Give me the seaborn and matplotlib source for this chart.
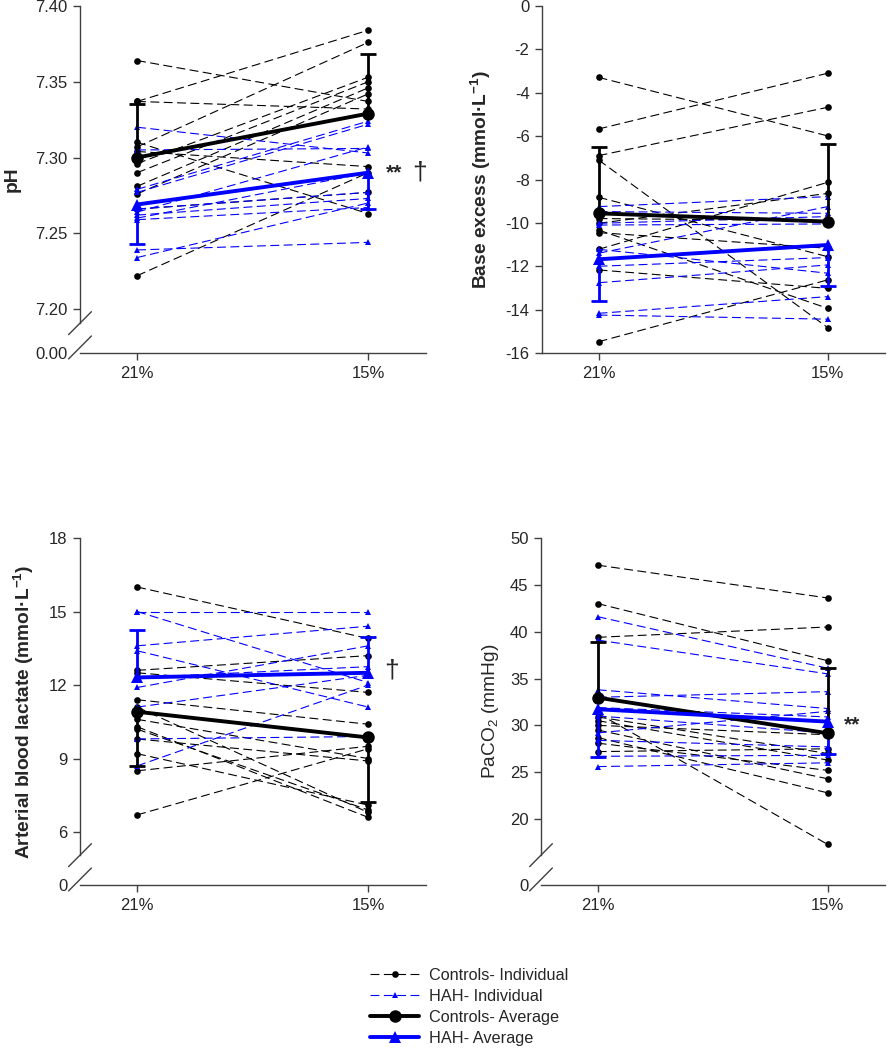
import numpy as np
import pandas as pd
import matplotlib
matplotlib.use("Agg")
import matplotlib.pyplot as plt
from matplotlib.lines import Line2D
import seaborn as sns

conditions = ["21%", "15%"]

# pH
ph_ctrl_21 = [7.364, 7.337, 7.337, 7.310, 7.307, 7.304, 7.296, 7.290, 7.281, 7.276, 7.266, 7.222]
ph_ctrl_15 = [7.337, 7.384, 7.332, 7.263, 7.376, 7.294, 7.353, 7.350, 7.346, 7.342, 7.277, 7.290]
ph_hah_21 = [7.320, 7.305, 7.279, 7.277, 7.266, 7.264, 7.262, 7.260, 7.259, 7.239, 7.234]
ph_hah_15 = [7.303, 7.306, 7.324, 7.322, 7.277, 7.307, 7.273, 7.290, 7.267, 7.244, 7.270]
ph_ctrl_mean = [7.300, 7.329]
ph_hah_mean = [7.269, 7.290]
ph_ctrl_bar = [7.335, 7.368]
ph_hah_bar = [7.243, 7.266]

# base excess
be_ctrl_21 = [-3.29, -5.67, -6.90, -7.10, -8.82, -9.80, -10.02, -10.33, -10.45, -11.22, -12.17, -15.48]
be_ctrl_15 = [-5.99, -3.10, -4.67, -14.83, -11.56, -9.90, -8.64, -13.94, -11.17, -8.13, -13.02, -12.63]
be_hah_21 = [-9.25, -9.48, -10.02, -10.10, -11.22, -11.40, -12.76, -14.17, -14.25, -12.00]
be_hah_15 = [-8.79, -9.56, -9.71, -10.05, -12.32, -9.25, -11.94, -13.40, -14.44, -11.60]
be_ctrl_mean = [-9.56, -9.94]
be_hah_mean = [-11.68, -11.02]
be_ctrl_bar = [-6.52, -6.38]
be_hah_bar = [-13.59, -12.91]

# arterial blood lactate
la_ctrl_21 = [16.0, 12.6, 12.5, 11.4, 11.1, 10.6, 10.3, 10.2, 9.8, 9.2, 8.5, 6.7]
la_ctrl_15 = [13.9, 13.2, 11.7, 10.4, 6.8, 9.0, 6.6, 6.9, 8.9, 7.1, 9.5, 9.4]
la_hah_21 = [15.0, 15.0, 13.6, 13.4, 12.3, 11.9, 11.1, 9.8, 8.7]
la_hah_15 = [15.0, 12.1, 14.4, 11.1, 12.75, 13.6, 12.4, 9.9, 12.0]
la_ctrl_mean = [10.91, 9.86]
la_hah_mean = [12.31, 12.50]
la_ctrl_bar = [8.69, 7.24]
la_hah_bar = [14.24, 13.95]

# PaCO2
pc_ctrl_21 = [47.1, 43.0, 39.4, 31.3, 30.9, 30.5, 30.0, 29.5, 28.7, 28.1, 27.2]
pc_ctrl_15 = [43.6, 36.9, 40.5, 17.3, 27.0, 26.3, 29.0, 24.3, 22.8, 25.2, 27.5]
pc_hah_21 = [41.6, 39.1, 33.8, 33.0, 31.9, 31.0, 29.2, 28.4, 26.7, 25.6]
pc_hah_15 = [36.1, 35.5, 31.8, 33.6, 30.9, 29.2, 31.5, 27.7, 26.8, 26.0]
pc_ctrl_mean = [32.96, 29.16]
pc_hah_mean = [31.72, 30.40]
pc_ctrl_bar = [38.87, 36.09]
pc_hah_bar = [26.66, 26.92]

sns.set_style("ticks")
plt.rcParams["font.family"] = ["Liberation Sans", "DejaVu Sans"]
plt.rcParams["mathtext.fontset"] = "custom"
plt.rcParams["mathtext.rm"] = "Liberation Sans"
plt.rcParams["mathtext.bf"] = "Liberation Sans:bold"

BLUE = "#0000ff"
AXC = "#404040"
DASH = (0, (8, 4))


def long_table(pre, post):
    n = len(pre)
    return pd.DataFrame({"subject": list(range(n)) * 2,
                         "pos": [0] * n + [1] * n,
                         "value": list(pre) + list(post)})


def draw_bar(ax, mean, end, color):
    pos = np.arange(len(conditions))
    ax.vlines(pos, mean, end, color=color, lw=2, zorder=6)
    ax.plot(pos, end, ls="none", marker="_", ms=12, mew=2, color=color, zorder=6)


def panel(ax, c21, c15, h21, h15, cm, hm, cb, hb, ylim, yticks, ylabels, ylabel,
          label_x, bold, broken):
    sns.lineplot(data=long_table(c21, c15), x="pos", y="value", units="subject",
                 estimator=None, color="black", lw=0.8, linestyle=DASH, marker="o",
                 ms=4.8, mec="black", mew=0, ax=ax, legend=False, zorder=3)
    sns.lineplot(data=long_table(h21, h15), x="pos", y="value", units="subject",
                 estimator=None, color=BLUE, lw=0.8, linestyle=DASH, marker="^",
                 ms=4.8, mec=BLUE, mew=0, ax=ax, legend=False, zorder=3)
    avg = pd.DataFrame({"pos": [0, 1], "ctrl": cm, "hah": hm})
    draw_bar(ax, cm, cb, "black")
    draw_bar(ax, hm, hb, BLUE)
    sns.lineplot(data=avg, x="pos", y="ctrl", color="black", lw=2.8, marker="o",
                 ms=9, mec="black", mew=0, ax=ax, zorder=7)
    sns.lineplot(data=avg, x="pos", y="hah", color=BLUE, lw=2.8, marker="^",
                 ms=9, mec=BLUE, mew=0, ax=ax, zorder=8)

    ax.set_xlim(-0.247, 1.25)
    ax.set_ylim(*ylim)
    ax.set_xticks(range(len(conditions)))
    ax.set_xticklabels(conditions)
    ax.set_yticks(yticks)
    ax.set_yticklabels(ylabels)
    ax.set_xlabel("")
    ax.set_ylabel(ylabel, fontsize=13.8, fontweight="bold" if bold else "normal")
    ax.yaxis.set_label_coords(label_x, 0.5)
    ax.tick_params(labelsize=12, length=5, width=1, color=AXC, pad=4)
    for s in ["top", "right"]:
        ax.spines[s].set_visible(False)
    for s in ["left", "bottom"]:
        ax.spines[s].set_color(AXC)
        ax.spines[s].set_linewidth(1)
    if broken:
        ax.yaxis.get_major_ticks()[0].tick1line.set_visible(False)
        lo, hi = ylim
        frac = 0.086
        ax.spines["left"].set_bounds(lo + frac * (hi - lo), hi)
        d = 0.033
        for yc in [frac, 0.016]:
            ax.plot([-d, d], [yc - d, yc + d], transform=ax.transAxes, color=AXC,
                    lw=1, clip_on=False)


W, H = 888, 1050
fig = plt.figure(figsize=(8.88, 10.5), dpi=100)
ax1 = fig.add_axes([80 / W, 1 - 353 / H, 346 / W, 347 / H])
ax2 = fig.add_axes([542 / W, 1 - 353 / H, 343 / W, 347 / H])
ax3 = fig.add_axes([80 / W, 1 - 885 / H, 346 / W, 347 / H])
ax4 = fig.add_axes([541 / W, 1 - 885 / H, 344 / W, 347 / H])

panel(ax1, ph_ctrl_21, ph_ctrl_15, ph_hah_21, ph_hah_15, ph_ctrl_mean, ph_hah_mean,
      ph_ctrl_bar, ph_hah_bar, (7.171, 7.40),
      [7.171, 7.20, 7.25, 7.30, 7.35, 7.40], ["0.00", "7.20", "7.25", "7.30", "7.35", "7.40"],
      "pH", -0.170, True, True)
panel(ax2, be_ctrl_21, be_ctrl_15, be_hah_21, be_hah_15, be_ctrl_mean, be_hah_mean,
      be_ctrl_bar, be_hah_bar, (-16, 0),
      list(range(-16, 1, 2)), [str(v) for v in range(-16, 1, 2)],
      r"Base excess (mmol·L$^{\mathbf{-1}}$)", -0.143, True, False)
panel(ax3, la_ctrl_21, la_ctrl_15, la_hah_21, la_hah_15, la_ctrl_mean, la_hah_mean,
      la_ctrl_bar, la_hah_bar, (3.84, 18),
      [3.84, 6, 9, 12, 15, 18], ["0", "6", "9", "12", "15", "18"],
      r"Arterial blood lactate (mmol·L$^{\mathbf{-1}}$)", -0.128, True, True)
panel(ax4, pc_ctrl_21, pc_ctrl_15, pc_hah_21, pc_hah_15, pc_ctrl_mean, pc_hah_mean,
      pc_ctrl_bar, pc_hah_bar, (12.96, 50),
      [12.96, 20, 25, 30, 35, 40, 45, 50], ["0", "20", "25", "30", "35", "40", "45", "50"],
      r"PaCO$_2$ (mmHg)", -0.117, False, True)

# significance marks
ax1.text(1.075, ph_hah_mean[1], "**", fontsize=15, fontweight="bold", va="center", ha="left")
ax1.text(1.19, ph_hah_mean[1], "†", fontsize=19, va="center", ha="left")
ax3.text(1.07, la_hah_mean[1] + 0.1, "†", fontsize=19, va="center", ha="left")
ax4.text(1.07, pc_hah_mean[1] - 0.4, "**", fontsize=15, fontweight="bold", va="center", ha="left")

handles = [
    Line2D([], [], color="black", lw=0.8, ls=DASH, marker="o", ms=4.8, mew=0),
    Line2D([], [], color=BLUE, lw=0.8, ls=DASH, marker="^", ms=4.8, mew=0),
    Line2D([], [], color="black", lw=2.8, marker="o", ms=9, mew=0),
    Line2D([], [], color=BLUE, lw=2.8, marker="^", ms=9, mew=0),
]
labels = ["Controls- Individual", "HAH- Individual", "Controls- Average", "HAH- Average"]
fig.legend(handles, labels, loc="upper left", bbox_to_anchor=(362 / W, 1 - 960 / H),
           frameon=False, fontsize=11.7, handlelength=3.0, handletextpad=0.6,
           labelspacing=0.36, borderpad=0)

fig.savefig("out.png", dpi=100)
